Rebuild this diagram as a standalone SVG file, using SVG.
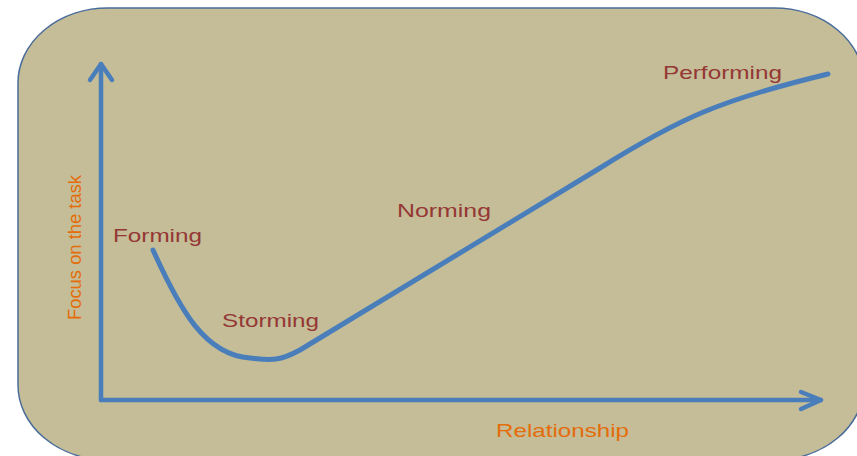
<svg xmlns="http://www.w3.org/2000/svg" width="857" height="456" viewBox="0 0 857 456">
<defs>
<style>
.stage{font-family:"Liberation Sans",Arial,sans-serif;font-size:19px;fill:#953735;}
.axislbl{font-family:"Liberation Sans",Arial,sans-serif;font-size:19px;fill:#E46C0A;}
.ax{fill:none;stroke:#4A7EBB;stroke-width:4.5;stroke-linecap:round;stroke-linejoin:round;}
.curve{fill:none;stroke:#4A7EBB;stroke-width:5;stroke-linecap:round;stroke-linejoin:round;}
</style>
</defs>
<rect width="857" height="456" fill="#FFFFFF"/>
<g id="panel">
<rect x="18" y="8" width="846" height="452" rx="90" ry="75" fill="#C4BD97" stroke="#4A6C9B" stroke-width="1.5"/>
</g>
<g id="connectors">
<path class="ax" d="M101,400 L101,64"/>
<path class="ax" d="M90,80 L101,64 L112,80"/>
<path class="ax" d="M101,400 L821,400"/>
<path class="ax" d="M801,392 L821,400 L801,409"/>
<path class="curve" d="M153,250 C180,310 205,355 250,358 C270,360 278,362 300,350 L600,168 C680,118 720,100 828,74"/>
</g>
<g id="forming"><text class="stage" x="113" y="242" textLength="89" lengthAdjust="spacingAndGlyphs">Forming</text></g>
<g id="storming"><text class="stage" x="222" y="327" textLength="97" lengthAdjust="spacingAndGlyphs">Storming</text></g>
<g id="norming"><text class="stage" x="397" y="217" textLength="94" lengthAdjust="spacingAndGlyphs">Norming</text></g>
<g id="performing"><text class="stage" x="663" y="79" textLength="119" lengthAdjust="spacingAndGlyphs">Performing</text></g>
<g id="relationship"><text class="axislbl" x="496" y="437" textLength="133" lengthAdjust="spacingAndGlyphs">Relationship</text></g>
<g id="focus"><text class="axislbl" transform="translate(81,320) rotate(-90)" x="0" y="0" font-size="18" textLength="145" lengthAdjust="spacingAndGlyphs">Focus on the task</text></g>
</svg>
